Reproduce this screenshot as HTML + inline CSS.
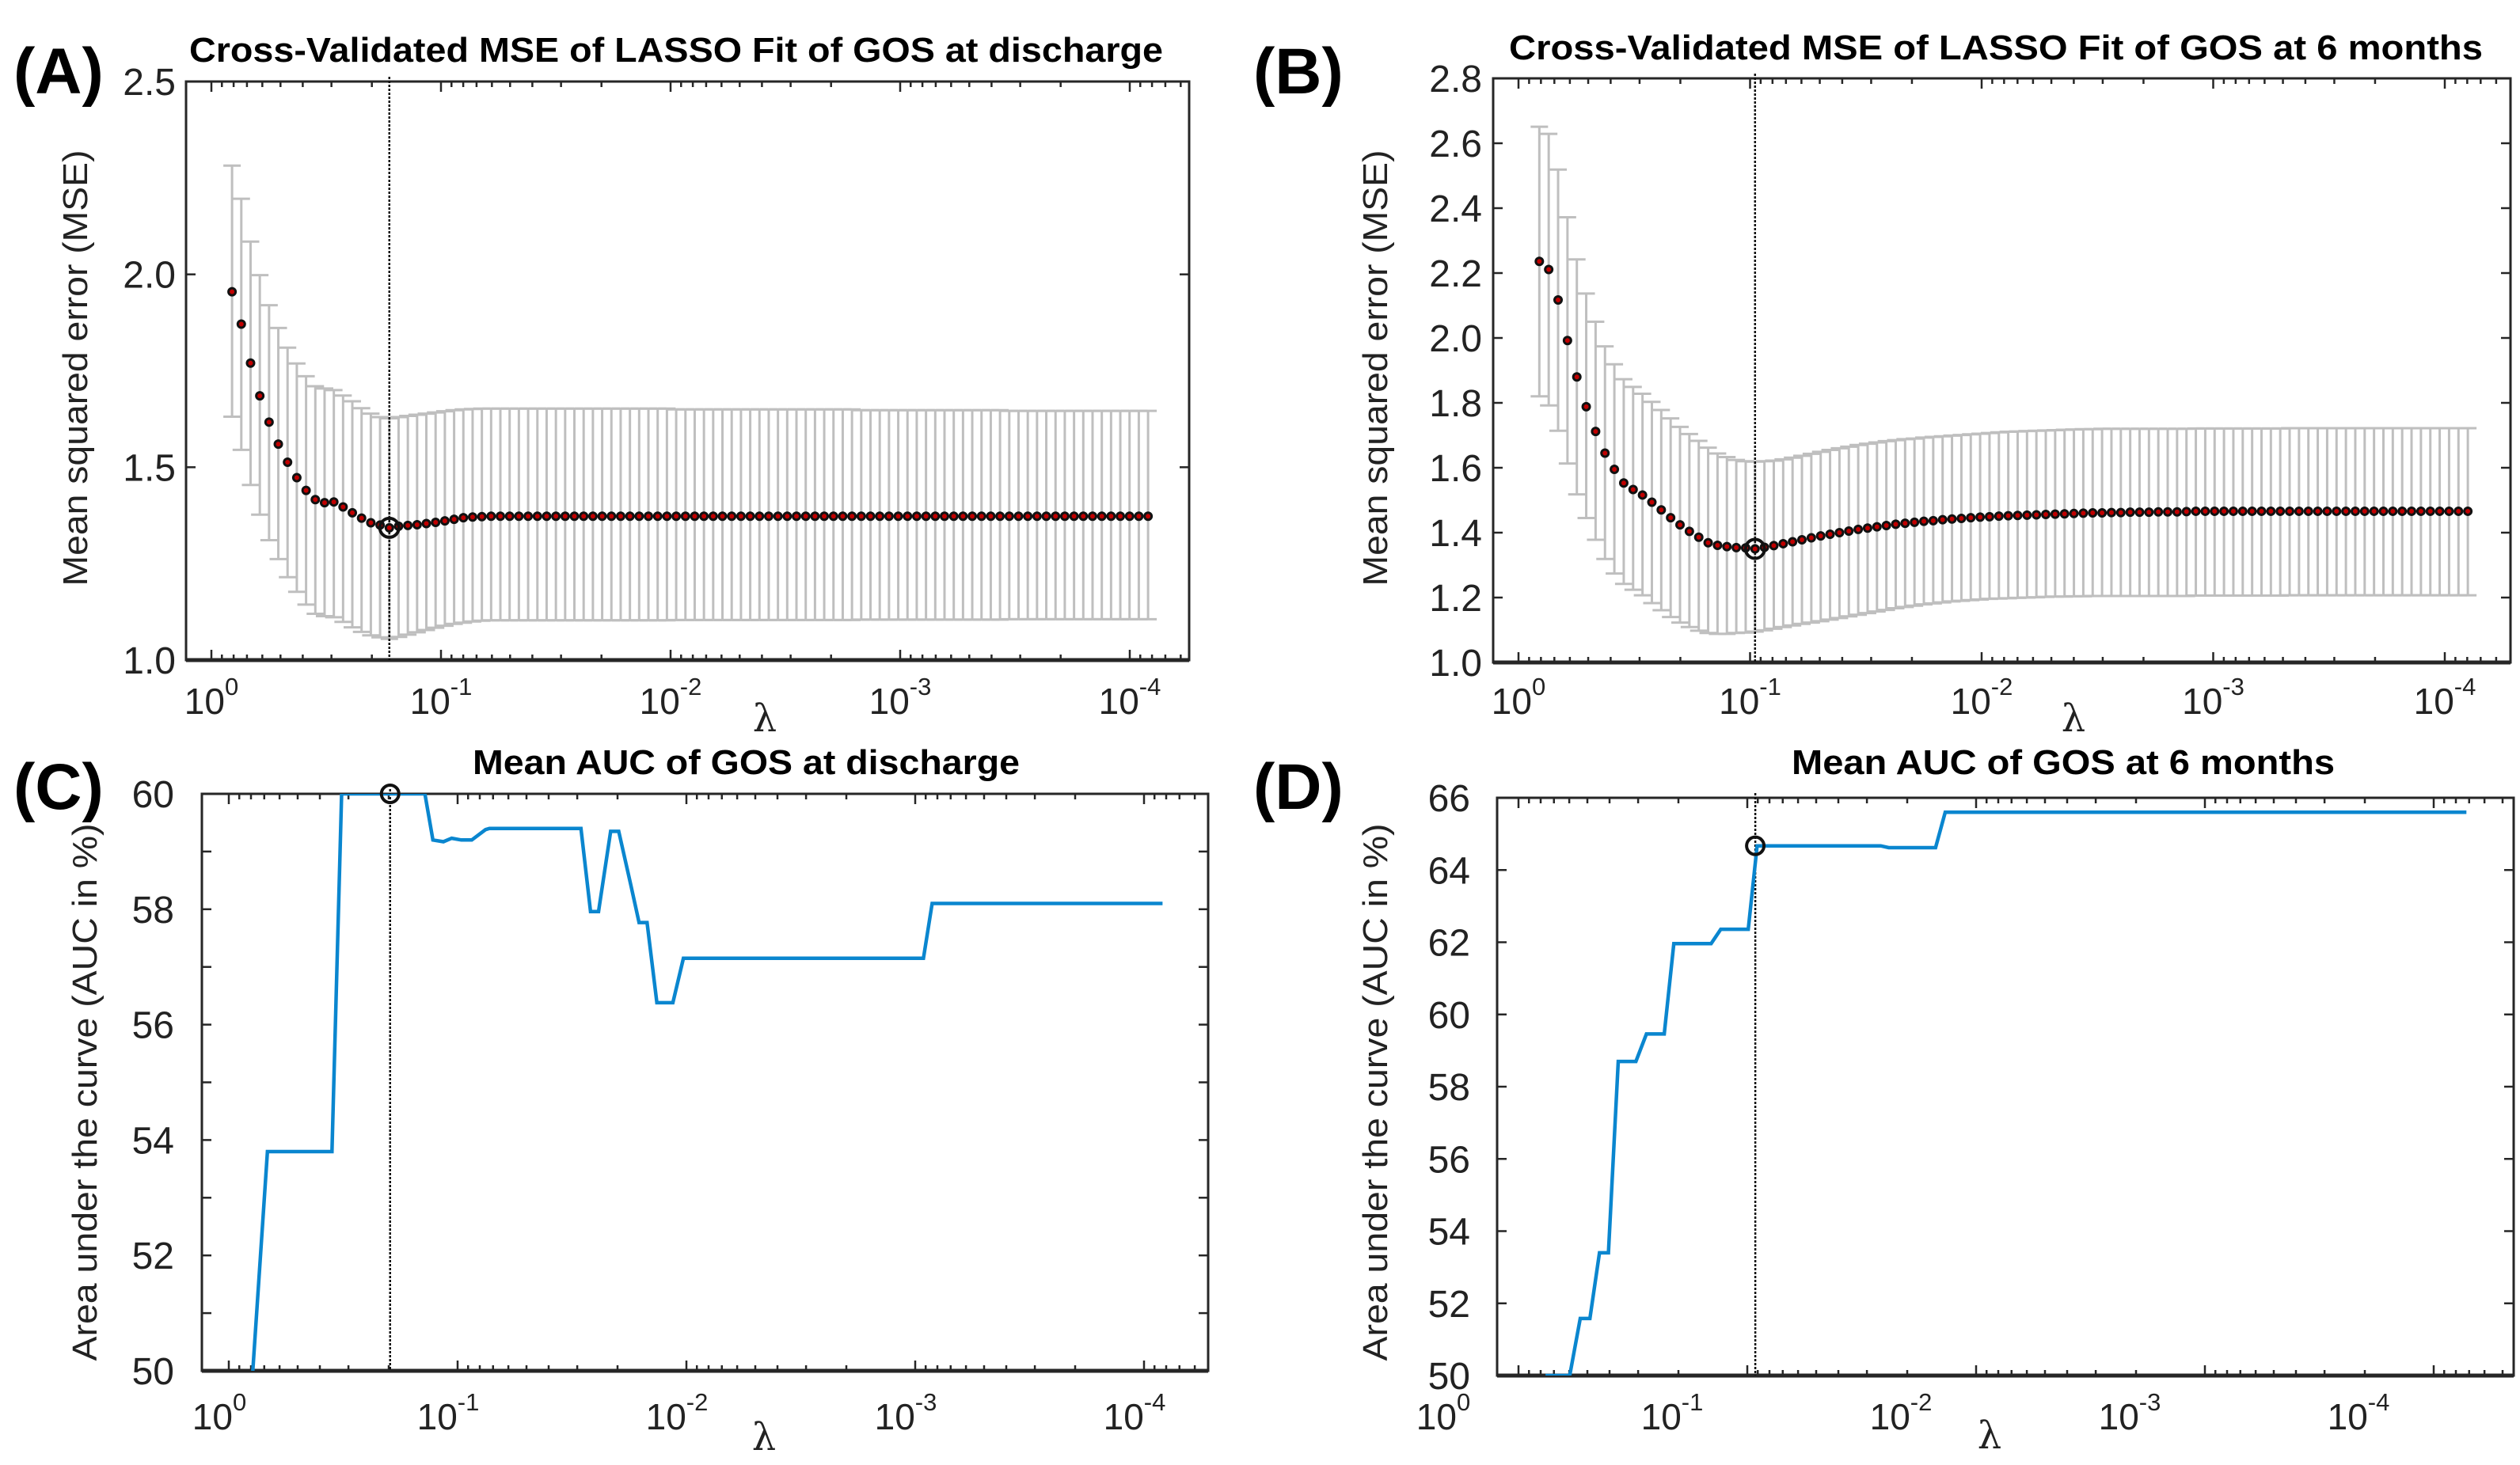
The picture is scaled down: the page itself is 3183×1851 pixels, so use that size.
<!DOCTYPE html>
<html><head><meta charset="utf-8"><style>
html,body{margin:0;padding:0;background:#fff;}
svg{display:block;font-family:"Liberation Sans",Arial,sans-serif;}
</style></head><body>
<svg id="fig" width="3183" height="1851" viewBox="0 0 3183 1851" xmlns="http://www.w3.org/2000/svg">
<defs>
<clipPath id="clipC"><rect x="255" y="1003" width="1271" height="729"/></clipPath>
<clipPath id="clipD"><rect x="1891" y="1008" width="1284" height="730"/></clipPath>
</defs>
</svg>
<script>
// ---------- data ----------
const xTickExps = [0,-1,-2,-3,-4];
const logLambdaStartA = -0.09, logLambdaStepA = -0.0403;
const logLambdaStartB = -0.09, logLambdaStepB = -0.0405;
const mseA = [1.955,1.871,1.770,1.685,1.617,1.560,1.513,1.473,1.440,1.416,1.408,1.410,1.397,1.382,1.368,1.356,1.350,1.343,1.347,1.349,1.351,1.354,1.357,1.361,1.365,1.369,1.371,1.372,
1.373,1.373,1.373,1.373,1.373,1.373,1.373,1.373,1.373,1.373,1.373,1.373,1.373,1.373,1.373,1.373,1.373,1.373,1.373,1.373,1.373,1.373,1.373,1.373,1.373,1.373,1.373,1.373,1.373,1.373,1.373,1.373,1.373,1.373,1.373,1.373,1.373,1.373,1.373,1.373,1.373,1.373,1.373,1.373,1.373,1.373,1.373,1.373,1.373,1.373,1.373,1.373,1.373,1.373,1.373,1.373,1.373,1.373,1.373,1.373,1.373,1.373,1.373,1.373,1.373,1.373,1.373,1.373,1.373,1.373,1.373,1.373];
const upperA = [2.282,2.196,2.085,1.998,1.920,1.861,1.810,1.769,1.736,1.710,1.704,1.700,1.686,1.671,1.653,1.639,1.630,1.627,1.630,1.633,1.636,1.639,1.642,1.645,1.648,1.650,1.651,1.652,
1.652,1.652,1.652,1.652,1.652,1.652,1.652,1.652,1.652,1.652,1.652,1.652,1.652,1.652,1.652,1.652,1.652,1.652,1.652,1.652,
1.650,1.650,1.650,1.650,1.650,1.650,1.650,1.650,1.650,1.650,1.650,1.650,1.650,1.650,1.650,1.650,1.650,1.650,1.650,1.650,
1.648,1.648,1.648,1.648,1.648,1.648,1.648,1.648,1.648,1.648,1.648,1.648,1.648,1.648,1.648,1.648,
1.646,1.646,1.646,1.646,1.646,1.646,1.646,1.646,1.646,1.646,1.646,1.646,1.646,1.646,1.646,1.646];
const lowerA = [1.631,1.545,1.454,1.377,1.311,1.262,1.215,1.177,1.144,1.120,1.114,1.111,1.099,1.085,1.073,1.064,1.059,1.055,1.060,1.066,1.072,1.078,1.084,1.089,1.094,1.097,1.100,1.102,
1.103,1.103,1.103,1.103,1.103,1.103,1.103,1.103,1.103,1.103,1.103,1.103,1.103,1.103,1.103,1.103,1.103,1.103,1.103,1.103,
1.104,1.104,1.104,1.104,1.104,1.104,1.104,1.104,1.104,1.104,1.104,1.104,1.104,1.104,1.104,1.104,1.104,1.104,1.104,1.104,
1.105,1.105,1.105,1.105,1.105,1.105,1.105,1.105,1.105,1.105,1.105,1.105,1.105,1.105,1.105,1.105,
1.106,1.106,1.106,1.106,1.106,1.106,1.106,1.106,1.106,1.106,1.106,1.106,1.106,1.106,1.106,1.106];
const mseB = [2.236,2.211,2.117,1.992,1.880,1.788,1.712,1.645,1.595,1.553,1.533,1.516,1.494,1.470,1.446,1.424,1.404,1.386,1.369,1.361,1.357,1.354,1.353,1.350,
1.355,1.360,1.366,1.372,1.378,1.384,1.390,1.395,1.400,1.405,1.410,1.414,1.418,1.422,1.426,1.429,1.432,1.435,1.437,1.440,1.442,1.444,1.446,1.448,1.449,1.451,1.452,1.453,1.454,1.455,1.456,1.457,1.458,1.459,1.460,1.461,1.461,
1.462,1.462,1.463,1.463,1.463,1.464,1.464,1.464,1.465,
1.466,1.466,1.466,1.466,1.466,1.466,1.466,1.466,1.466,1.466,1.466,1.466,1.466,1.466,1.466,1.466,1.466,1.466,1.466,1.466,1.466,1.466,1.466,1.466,1.466,1.466,1.466,1.466,1.466,1.466];
const upperB = [2.651,2.629,2.519,2.372,2.242,2.137,2.050,1.974,1.919,1.873,1.849,1.828,1.803,1.778,1.752,1.726,1.704,1.683,1.662,1.644,1.633,1.624,1.620,1.619,
1.620,1.622,1.626,1.631,1.637,1.643,1.649,1.655,1.660,1.665,1.670,1.674,1.678,1.682,1.685,1.688,1.690,1.693,1.695,1.697,1.699,1.701,1.703,1.705,1.707,1.709,1.711,1.712,1.713,1.714,1.715,1.716,1.717,1.718,1.719,1.719,
1.720,1.720,1.720,1.720,1.720,1.720,1.720,1.720,1.720,1.720,
1.721,1.721,1.721,1.721,1.721,1.721,1.721,1.721,1.721,1.721,
1.722,1.722,1.722,1.722,1.722,1.722,1.722,1.722,1.722,1.722,1.722,1.722,1.722,1.722,1.722,1.722,1.722,1.722,1.722,1.722];
const lowerB = [1.820,1.792,1.714,1.613,1.518,1.445,1.378,1.319,1.274,1.242,1.224,1.207,1.183,1.161,1.140,1.123,1.109,1.098,1.091,1.088,1.088,1.091,1.092,1.095,
1.099,1.104,1.109,1.114,1.119,1.123,1.127,1.132,1.137,1.142,1.147,1.152,1.157,1.162,1.167,1.171,1.175,1.179,1.182,1.185,1.188,1.190,1.192,1.194,1.196,1.197,1.198,1.199,1.200,1.201,1.202,1.203,1.203,1.204,1.204,1.205,
1.205,1.205,1.205,1.205,1.205,1.205,1.205,1.205,1.205,1.205,
1.206,1.206,1.206,1.206,1.206,1.206,1.206,1.206,1.206,1.206,
1.207,1.207,1.207,1.207,1.207,1.207,1.207,1.207,1.207,1.207,1.207,1.207,1.207,1.207,1.207,1.207,1.207,1.207,1.207,1.207];
const minIndexA = 17, minIndexB = 23;
const aucLogLambdaC = [-0.105,-0.169,-0.451,-0.493,-0.857,-0.892,-0.938,-0.974,-1.016,-1.062,-1.122,-1.139,-1.539,-1.581,-1.616,-1.669,-1.704,-1.757,-1.793,-1.828,-1.871,-1.941,-1.987,-3.036,-3.074,-4.081];
const aucC = [50,53.8,53.8,60,60,59.2,59.17,59.23,59.2,59.2,59.38,59.4,59.4,57.96,57.96,59.35,59.35,58.42,57.77,57.77,56.38,56.38,57.15,57.15,58.1,58.1];
const aucLogLambdaD = [-0.118,-0.224,-0.270,-0.312,-0.354,-0.393,-0.436,-0.513,-0.559,-0.637,-0.679,-0.842,-0.884,-1.004,-1.043,-1.583,-1.618,-1.823,-1.865,-4.143];
const aucD = [50,50,51.58,51.58,53.4,53.4,58.7,58.7,59.46,59.46,61.96,61.96,62.36,62.36,64.67,64.67,64.62,64.62,65.6,65.6];
const optLogC = -0.705, optAucC = 60;
const optLogD = -1.035, optAucD = 64.67;
const yTicksA = [1.0,1.5,2.0,2.5], yTickLabelsA = ['1.0','1.5','2.0','2.5'];
const yTicksB = [1.0,1.2,1.4,1.6,1.8,2.0,2.2,2.4,2.6,2.8], yTickLabelsB = ['1.0','1.2','1.4','1.6','1.8','2.0','2.2','2.4','2.6','2.8'];
const yTicksC = [50,51,52,53,54,55,56,57,58,59,60], yTickLabelsC = ['50','','52','','54','','56','','58','','60'];
const yTicksD = [50,52,54,56,58,60,62,64,66], yTickLabelsD = ['50','52','54','56','58','60','62','64','66'];

// ---------- helpers ----------
const NS='http://www.w3.org/2000/svg';
const svg=document.getElementById('fig');
function mk(tag, attrs, parent){
  const e=document.createElementNS(NS,tag);
  for(const k in attrs) e.setAttribute(k, attrs[k]);
  (parent||svg).appendChild(e);
  return e;
}
function makeAxes(cfg){
  cfg.sx = v => cfg.x0 - v*cfg.dec;
  cfg.sy = v => cfg.b - (v-cfg.ymin)/(cfg.ymax-cfg.ymin)*(cfg.b-cfg.t);
  const g=mk('g',{});
  
  
  cfg.g=g;
  const box=mk('rect',{x:cfg.l,y:cfg.t,width:cfg.r-cfg.l,height:cfg.b-cfg.t,fill:'none',stroke:'#262626','stroke-width':3},g);
  
  
  const bl=mk('line',{x1:cfg.l,y1:cfg.b,x2:cfg.r,y2:cfg.b,stroke:'#262626','stroke-width':5},g);
  
  
  for(let n=0;n<=4;n++){
    const xm=cfg.sx(-n);
    if(xm>=cfg.l && xm<=cfg.r){
      mk('line',{x1:xm,y1:cfg.b,x2:xm,y2:cfg.b-13,stroke:'#262626','stroke-width':2.5},g);
      mk('line',{x1:xm,y1:cfg.t,x2:xm,y2:cfg.t+13,stroke:'#262626','stroke-width':2.5},g);
    }
    for(let k=2;k<=9;k++){
      const xv=cfg.sx(Math.log10(k)-n-1);
      if(xv>cfg.l+2 && xv<cfg.r-2){
        mk('line',{x1:xv,y1:cfg.b,x2:xv,y2:cfg.b-7,stroke:'#262626','stroke-width':2.5},g);
        mk('line',{x1:xv,y1:cfg.t,x2:xv,y2:cfg.t+7,stroke:'#262626','stroke-width':2.5},g);
      }
    }
  }
  xTickExps.forEach(e=>{
    const t=mk('text',{x:cfg.sx(e)+cfg.labShift,y:cfg.xlabY,'text-anchor':'middle','font-size':46,fill:'#222'},g);
    
    
    t.appendChild(document.createTextNode('10'));
    const s=mk('tspan',{dy:-24,'font-size':31},t);
    s.textContent=String(e);
  });
  cfg.yTicks.forEach((v,i)=>{
    const y=cfg.sy(v);
    mk('line',{x1:cfg.l,y1:y,x2:cfg.l+12,y2:y,stroke:'#262626','stroke-width':2.5},g);
    mk('line',{x1:cfg.r,y1:y,x2:cfg.r-12,y2:y,stroke:'#262626','stroke-width':2.5},g);
    if(cfg.yLabels[i]){
      const t=mk('text',{x:cfg.ylabX,y:y+17,'text-anchor':'end','font-size':48,fill:'#222'},g);
      
      
      t.textContent=cfg.yLabels[i];
    }
  });
  const xl=mk('text',{x:cfg.lamX,y:cfg.lamY,'text-anchor':'middle','font-size':48,fill:'#222','font-family':'"DejaVu Serif","Liberation Serif",serif'},g);
  
  
  xl.textContent='λ';
  const yl=mk('text',{x:0,y:0,'text-anchor':'middle','font-size':44,fill:'#222',transform:'translate('+cfg.ytX+','+cfg.ytY+') rotate(-90)',textLength:cfg.ytLen,lengthAdjust:'spacingAndGlyphs'},g);
  
  
  yl.textContent=cfg.yTitle;
  const ti=mk('text',{x:cfg.tiX,y:cfg.tiY,'font-size':44,'font-weight':'bold',fill:'#000',textLength:cfg.tiLen,lengthAdjust:'spacingAndGlyphs'},g);
  
  
  ti.textContent=cfg.title;
  const pl=mk('text',{x:cfg.plX,y:cfg.plY,'font-size':82,'font-weight':'bold',fill:'#000'},g);
  
  
  pl.textContent=cfg.panel;
  return cfg;
}
function vline(cfg, logv, y1){
  const x=cfg.sx(logv);
  const l=mk('line',{x1:x,y1:y1,x2:x,y2:cfg.b,stroke:'#111','stroke-width':2.5,'stroke-dasharray':'3 2'});
  
  
}
function msePanel(cfg, start, step, mse, up, lo, minIdx){
  const gE=mk('g',{stroke:'#bfbfbf','stroke-width':3});
  
  
  for(let i=0;i<mse.length;i++){
    const x=cfg.sx(start+step*i), yu=cfg.sy(up[i]), yl=cfg.sy(lo[i]);
    mk('line',{x1:x,y1:yu,x2:x,y2:yl},gE);
    mk('line',{x1:x-11,y1:yu,x2:x+11,y2:yu},gE);
    mk('line',{x1:x-11,y1:yl,x2:x+11,y2:yl},gE);
  }
  vline(cfg, start+step*minIdx, cfg.t-6);
  const gD=mk('g',{});
  
  
  for(let i=0;i<mse.length;i++){
    const c=mk('circle',{cx:cfg.sx(start+step*i),cy:cfg.sy(mse[i]),r:4.5,fill:'#c00000',stroke:'#111','stroke-width':3},gD);
    
    
  }
  const m=mk('circle',{cx:cfg.sx(start+step*minIdx),cy:cfg.sy(mse[minIdx]),r:12,fill:'none',stroke:'#111','stroke-width':4});
  
  
}
function aucPanel(cfg, xs, ys, clip, optLog, optAuc){
  vline(cfg, optLog, cfg.t-6);
  const d=xs.map((v,i)=>(i?'L':'M')+cfg.sx(v).toFixed(1)+' '+cfg.sy(ys[i]).toFixed(1)).join(' ');
  const p=mk('path',{d:d,fill:'none',stroke:'#0a86cf','stroke-width':4.5,'clip-path':'url(#'+clip+')'});
  
  
  const m=mk('circle',{cx:cfg.sx(optLog),cy:cfg.sy(optAuc),r:11,fill:'none',stroke:'#111','stroke-width':4});
  
  
}

// ---------- panels ----------
const A=makeAxes({id:'panel-a',l:235,r:1502,t:103,b:834,x0:267,dec:290,ymin:1,ymax:2.5,yTicks:yTicksA,yLabels:yTickLabelsA,
  labShift:0,xlabY:902,ylabX:222,lamX:966,lamY:924,ytX:110,ytY:465,ytLen:551,yTitle:'Mean squared error (MSE)',
  tiX:239,tiY:78,tiLen:1230,title:'Cross-Validated MSE of LASSO Fit of GOS at discharge',plX:17,plY:118,panel:'(A)'});
msePanel(A, logLambdaStartA, logLambdaStepA, mseA, upperA, lowerA, minIndexA);

const B=makeAxes({id:'panel-b',l:1886,r:3171,t:99,b:837,x0:1918,dec:292.5,ymin:1,ymax:2.8,yTicks:yTicksB,yLabels:yTickLabelsB,
  labShift:0,xlabY:902,ylabX:1872,lamX:2619,lamY:924,ytX:1752,ytY:465,ytLen:551,yTitle:'Mean squared error (MSE)',
  tiX:1906,tiY:75,tiLen:1230,title:'Cross-Validated MSE of LASSO Fit of GOS at 6 months',plX:1583,plY:118,panel:'(B)'});
msePanel(B, logLambdaStartB, logLambdaStepB, mseB, upperB, lowerB, minIndexB);

const C=makeAxes({id:'panel-c',l:255,r:1526,t:1003,b:1732,x0:289,dec:289,ymin:50,ymax:60,yTicks:yTicksC,yLabels:yTickLabelsC,
  labShift:-12,xlabY:1806,ylabX:220,lamX:965,lamY:1832,ytX:122,ytY:1380,ytLen:679,yTitle:'Area under the curve (AUC in %)',
  tiX:597,tiY:978,tiLen:691,title:'Mean AUC of GOS at discharge',plX:17,plY:1022,panel:'(C)'});
aucPanel(C, aucLogLambdaC, aucC, 'clipC', optLogC, optAucC);

const D=makeAxes({id:'panel-d',l:1891,r:3175,t:1008,b:1738,x0:1918,dec:289,ymin:50,ymax:66,yTicks:yTicksD,yLabels:yTickLabelsD,
  labShift:-95,xlabY:1806,ylabX:1857,lamX:2513,lamY:1830,ytX:1752,ytY:1380,ytLen:679,yTitle:'Area under the curve (AUC in %)',
  tiX:2263,tiY:978,tiLen:686,title:'Mean AUC of GOS at 6 months',plX:1583,plY:1022,panel:'(D)'});
aucPanel(D, aucLogLambdaD, aucD, 'clipD', optLogD, optAucD);
</script>
</body></html>
